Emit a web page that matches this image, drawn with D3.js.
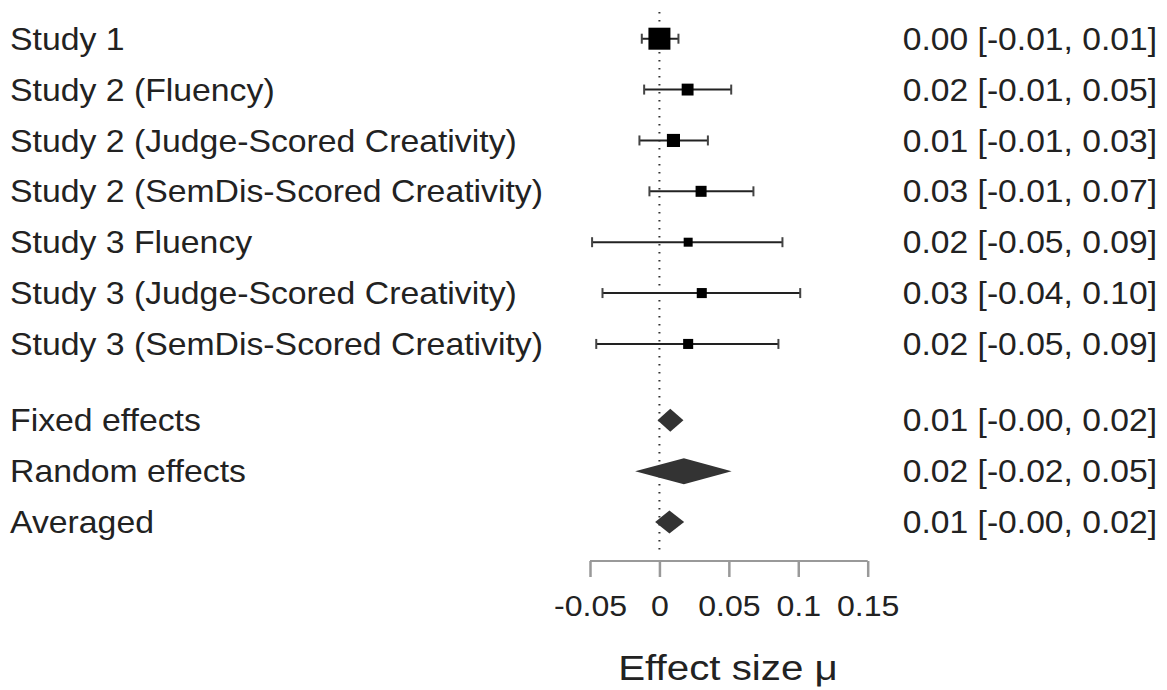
<!DOCTYPE html>
<html>
<head>
<meta charset="utf-8">
<script src="https://cdn.jsdelivr.net/npm/d3@7"></script>
<style>
  body { margin: 0; background: #fff; }
  text { font-family: "Liberation Sans", Arial, sans-serif; fill: #222; }
</style>
</head>
<body>
<div id="forest"></div>
<script>
// study rows
var studies = ['Study 1', 'Study 2 (Fluency)', 'Study 2 (Judge-Scored Creativity)',
    'Study 2 (SemDis-Scored Creativity)', 'Study 3 Fluency',
    'Study 3 (Judge-Scored Creativity)', 'Study 3 (SemDis-Scored Creativity)'];
var study_est = [0.000, 0.0203, 0.0101, 0.0300, 0.0207, 0.0305, 0.0207];
var study_lo = [-0.0127, -0.0110, -0.0144, -0.0072, -0.0485, -0.0410, -0.0455];
var study_hi = [0.0137, 0.0517, 0.0349, 0.0677, 0.0886, 0.1014, 0.0857];
var study_weight = [48, 14, 17, 12, 8, 10, 10];
var study_text = ['0.00 [-0.01, 0.01]', '0.02 [-0.01, 0.05]', '0.01 [-0.01, 0.03]',
    '0.03 [-0.01, 0.07]', '0.02 [-0.05, 0.09]', '0.03 [-0.04, 0.10]', '0.02 [-0.05, 0.09]'];

// pooled rows
var pooled = ['Fixed effects', 'Random effects', 'Averaged'];
var pooled_est = [0.0078, 0.0176, 0.0072];
var pooled_lo = [-0.0014, -0.0175, -0.0031];
var pooled_hi = [0.0173, 0.0520, 0.0178];
var pooled_text = ['0.01 [-0.00, 0.02]', '0.02 [-0.02, 0.05]', '0.01 [-0.00, 0.02]'];

var x_ticks = [-0.05, 0, 0.05, 0.1, 0.15];
var x_label = 'Effect size \u03bc';

var width = 1167;
var height = 690;

var svg = d3.select('#forest')
  .append('svg')
    .attr('width', width)
    .attr('height', height);

var x = d3.scaleLinear()
    .domain([-0.05, 0.15])
    .range([590, 867.7]);

// row positions: studies 0..6, gap, pooled at 7.5, 8.5, 9.5
var row = d3.scaleLinear()
    .domain([0, 9.5])
    .range([38.7, 522]);

var size = d3.scaleSqrt()
    .domain([0, 48])
    .range([0, 22]);

// text in the reference is a little wider than the font's natural width
var stretch = 1.09;
var label_font = 31;

// zero reference line
svg.append('line')
    .attr('x1', x(0))
    .attr('x2', x(0))
    .attr('y1', 12)
    .attr('y2', 553)
    .attr('stroke', '#333')
    .attr('stroke-width', 2)
    .attr('stroke-dasharray', '1.5,6.5');

// study error bars
var g_studies = svg.append('g');
studies.forEach(function(s, i) {
    var y = row(i);
    g_studies.append('line')
        .attr('x1', x(study_lo[i]))
        .attr('x2', x(study_hi[i]))
        .attr('y1', y)
        .attr('y2', y)
        .attr('stroke', '#222')
        .attr('stroke-width', 2);
    [study_lo[i], study_hi[i]].forEach(function(v) {
        g_studies.append('line')
            .attr('x1', x(v))
            .attr('x2', x(v))
            .attr('y1', y - 5)
            .attr('y2', y + 5)
            .attr('stroke', '#444')
            .attr('stroke-width', 2);
    });
    var sz = size(study_weight[i]);
    g_studies.append('rect')
        .attr('x', x(study_est[i]) - sz / 2)
        .attr('y', y - sz / 2)
        .attr('width', sz)
        .attr('height', sz)
        .attr('fill', '#000');
});

// pooled diamonds
svg.append('g')
    .selectAll('path.diamond')
    .data(pooled)
  .enter()
    .append('path')
    .attr('class', 'diamond')
    .attr('fill', '#333')
    .attr('d', function(d, i) {
        var y = row(7.5 + i);
        var h = i == 1 ? 13 : 11.5;
        return 'M' + x(pooled_lo[i]) + ',' + y
            + 'L' + x(pooled_est[i]) + ',' + (y - h)
            + 'L' + x(pooled_hi[i]) + ',' + y
            + 'L' + x(pooled_est[i]) + ',' + (y + h) + 'Z';
    });

// left labels
var all_names = studies.concat(pooled);
var all_text = study_text.concat(pooled_text);
function row_of(i) {
    return i < studies.length ? row(i) : row(i + 0.5);
}

svg.append('g')
    .selectAll('text.name')
    .data(all_names)
  .enter()
    .append('text')
    .attr('class', 'name')
    .attr('font-size', label_font + 'px')
    .attr('transform', function(d, i) {
        return 'translate(10,' + row_of(i) + ') scale(' + stretch + ',1)';
    })
    .attr('dy', '0.36em')
    .text(function(d) { return d; });

// right labels
svg.append('g')
    .selectAll('text.ci')
    .data(all_text)
  .enter()
    .append('text')
    .attr('class', 'ci')
    .attr('font-size', label_font + 'px')
    .style('text-anchor', 'end')
    .attr('transform', function(d, i) {
        return 'translate(1157,' + row_of(i) + ') scale(1.085,1)';
    })
    .attr('dy', '0.36em')
    .text(function(d) { return d; });

// x axis
var axis = svg.append('g')
    .attr('transform', 'translate(0,561)')
    .call(d3.axisBottom(x)
        .tickValues(x_ticks)
        .tickSize(16)
        .tickPadding(18)
        .tickFormat(function(d) { return d === 0 ? '0' : String(d); }));

axis.select('.domain')
    .attr('stroke', '#999')
    .attr('stroke-width', 2)
    .attr('d', 'M' + x(-0.05) + ',0H' + x(0.15));
axis.selectAll('.tick line')
    .attr('stroke', '#999')
    .attr('stroke-width', 2.5);
axis.selectAll('.tick text')
    .attr('font-size', '30px')
    .attr('font-family', '"Liberation Sans", Arial, sans-serif')
    .attr('fill', '#222')
    .attr('transform', 'scale(1.07,1)');

// x axis label
svg.append('text')
    .attr('font-size', '36px')
    .style('text-anchor', 'middle')
    .attr('transform', 'translate(728,680) scale(1.12,1)')
    .text(x_label);
</script>
</body>
</html>
